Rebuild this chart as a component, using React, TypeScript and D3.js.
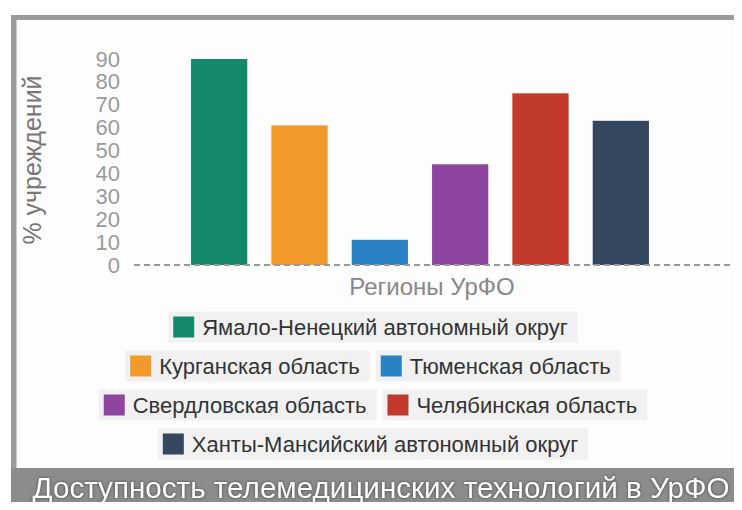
import React from "react";
import * as d3 from "d3";

const regions = [
  "Ямало-Ненецкий автономный округ",
  "Курганская область",
  "Тюменская область",
  "Свердловская область",
  "Челябинская область",
  "Ханты-Мансийский автономный округ",
];
const values = [90, 61, 11, 44, 75, 63];
const colors = ["#15896b", "#f19a2a", "#2a82c4", "#8e45a0", "#c0392b", "#34475e"];
const yTicks = [0, 10, 20, 30, 40, 50, 60, 70, 80, 90];
const legendRows = [[0], [1, 2], [3, 4], [5]];
const yTitle = "% учреждений";
const xTitle = "Регионы УрФО";
const title = "Доступность телемедицинских технологий в УрФО";

const W = 742;
const H = 510;
const FONT = "'Liberation Sans', Arial, Helvetica, sans-serif";

function measure(text: string, size: number): number {
  if (typeof document === "undefined") return text.length * size * 0.55;
  const c = document.createElement("canvas");
  const ctx = c.getContext("2d");
  if (!ctx) return text.length * size * 0.55;
  ctx.font = `${size}px 'Liberation Sans', Arial, sans-serif`;
  return ctx.measureText(text).width;
}

export default function App() {
  const x = d3
    .scaleBand<number>()
    .domain(d3.range(regions.length))
    .range([179, 661])
    .paddingInner(0.3)
    .paddingOuter(0.15);
  const y = d3.scaleLinear().domain([0, 90]).range([265, 59]);

  const legFont = 22;
  const padL = 5, sw = 21, gapS = 8, padR = 10, itemGap = 6, boxH = 31;
  const rowY = [327, 366, 405, 444];
  const cx = 373;

  return (
    <div style={{ margin: -8, width: W, height: H }}>
      <svg width={W} height={H} style={{ display: "block", fontFamily: FONT }}>
        <rect x={0} y={0} width={W} height={H} fill="#ffffff" />
        <rect x={16} y={20} width={W - 16} height={448} fill="#fdfdfd" />
        {/* frame */}
        <rect x={11} y={15} width={W - 11} height={5} fill="#9b9b9b" />
        <rect x={11} y={15} width={5.5} height={455} fill="#9b9b9b" />

        {/* y tick labels */}
        {yTicks.map((t) => (
          <text
            key={t}
            x={120}
            y={y(t)}
            textAnchor="end"
            dominantBaseline="central"
            fontSize={22}
            fill="#9a9a9a"
          >
            {t}
          </text>
        ))}

        {/* y title */}
        <text
          transform={`translate(32,160) rotate(-90)`}
          textAnchor="middle"
          dominantBaseline="central"
          fontSize={25}
          fill="#777"
        >
          {yTitle}
        </text>

        {/* bars */}
        {values.map((v, i) => (
          <rect
            key={i}
            x={x(i)}
            y={y(v)}
            width={x.bandwidth()}
            height={y(0) - y(v)}
            fill={colors[i]}
          />
        ))}

        {/* dashed baseline */}
        <line
          x1={134}
          x2={735}
          y1={y(0)}
          y2={y(0)}
          stroke="#999"
          strokeWidth={2}
          strokeDasharray="6 4"
        />

        {/* x title */}
        <text
          x={432}
          y={286}
          textAnchor="middle"
          dominantBaseline="central"
          fontSize={24}
          fill="#888"
        >
          {xTitle}
        </text>

        {/* legend */}
        {legendRows.map((row, ri) => {
          const widths = row.map((i) => padL + sw + gapS + measure(regions[i], legFont) + padR);
          const total = d3.sum(widths) + itemGap * (row.length - 1);
          let cur = cx - total / 2;
          return row.map((i, k) => {
            const bx = cur;
            cur += widths[k] + itemGap;
            const yc = rowY[ri];
            return (
              <g key={i}>
                <rect x={bx} y={yc - boxH / 2} width={widths[k]} height={boxH} fill="#f1f1f1" />
                <rect x={bx + padL} y={yc - sw / 2} width={sw} height={sw} fill={colors[i]} />
                <text
                  x={bx + padL + sw + gapS}
                  y={yc}
                  dominantBaseline="central"
                  fontSize={legFont}
                  fill="#333"
                >
                  {regions[i]}
                </text>
              </g>
            );
          });
        })}

        {/* title banner */}
        <rect x={11} y={468} width={W - 11} height={H - 468} fill="#8c8c8c" />
        <text
          x={381}
          y={498}
          textAnchor="middle"
          fontSize={29}
          fill="#ffffff"
          textLength={697}
          lengthAdjust="spacingAndGlyphs"
          style={{ filter: "drop-shadow(0px 0px 1.5px rgba(0,0,0,0.5))" }}
        >
          {title}
        </text>
      </svg>
    </div>
  );
}
